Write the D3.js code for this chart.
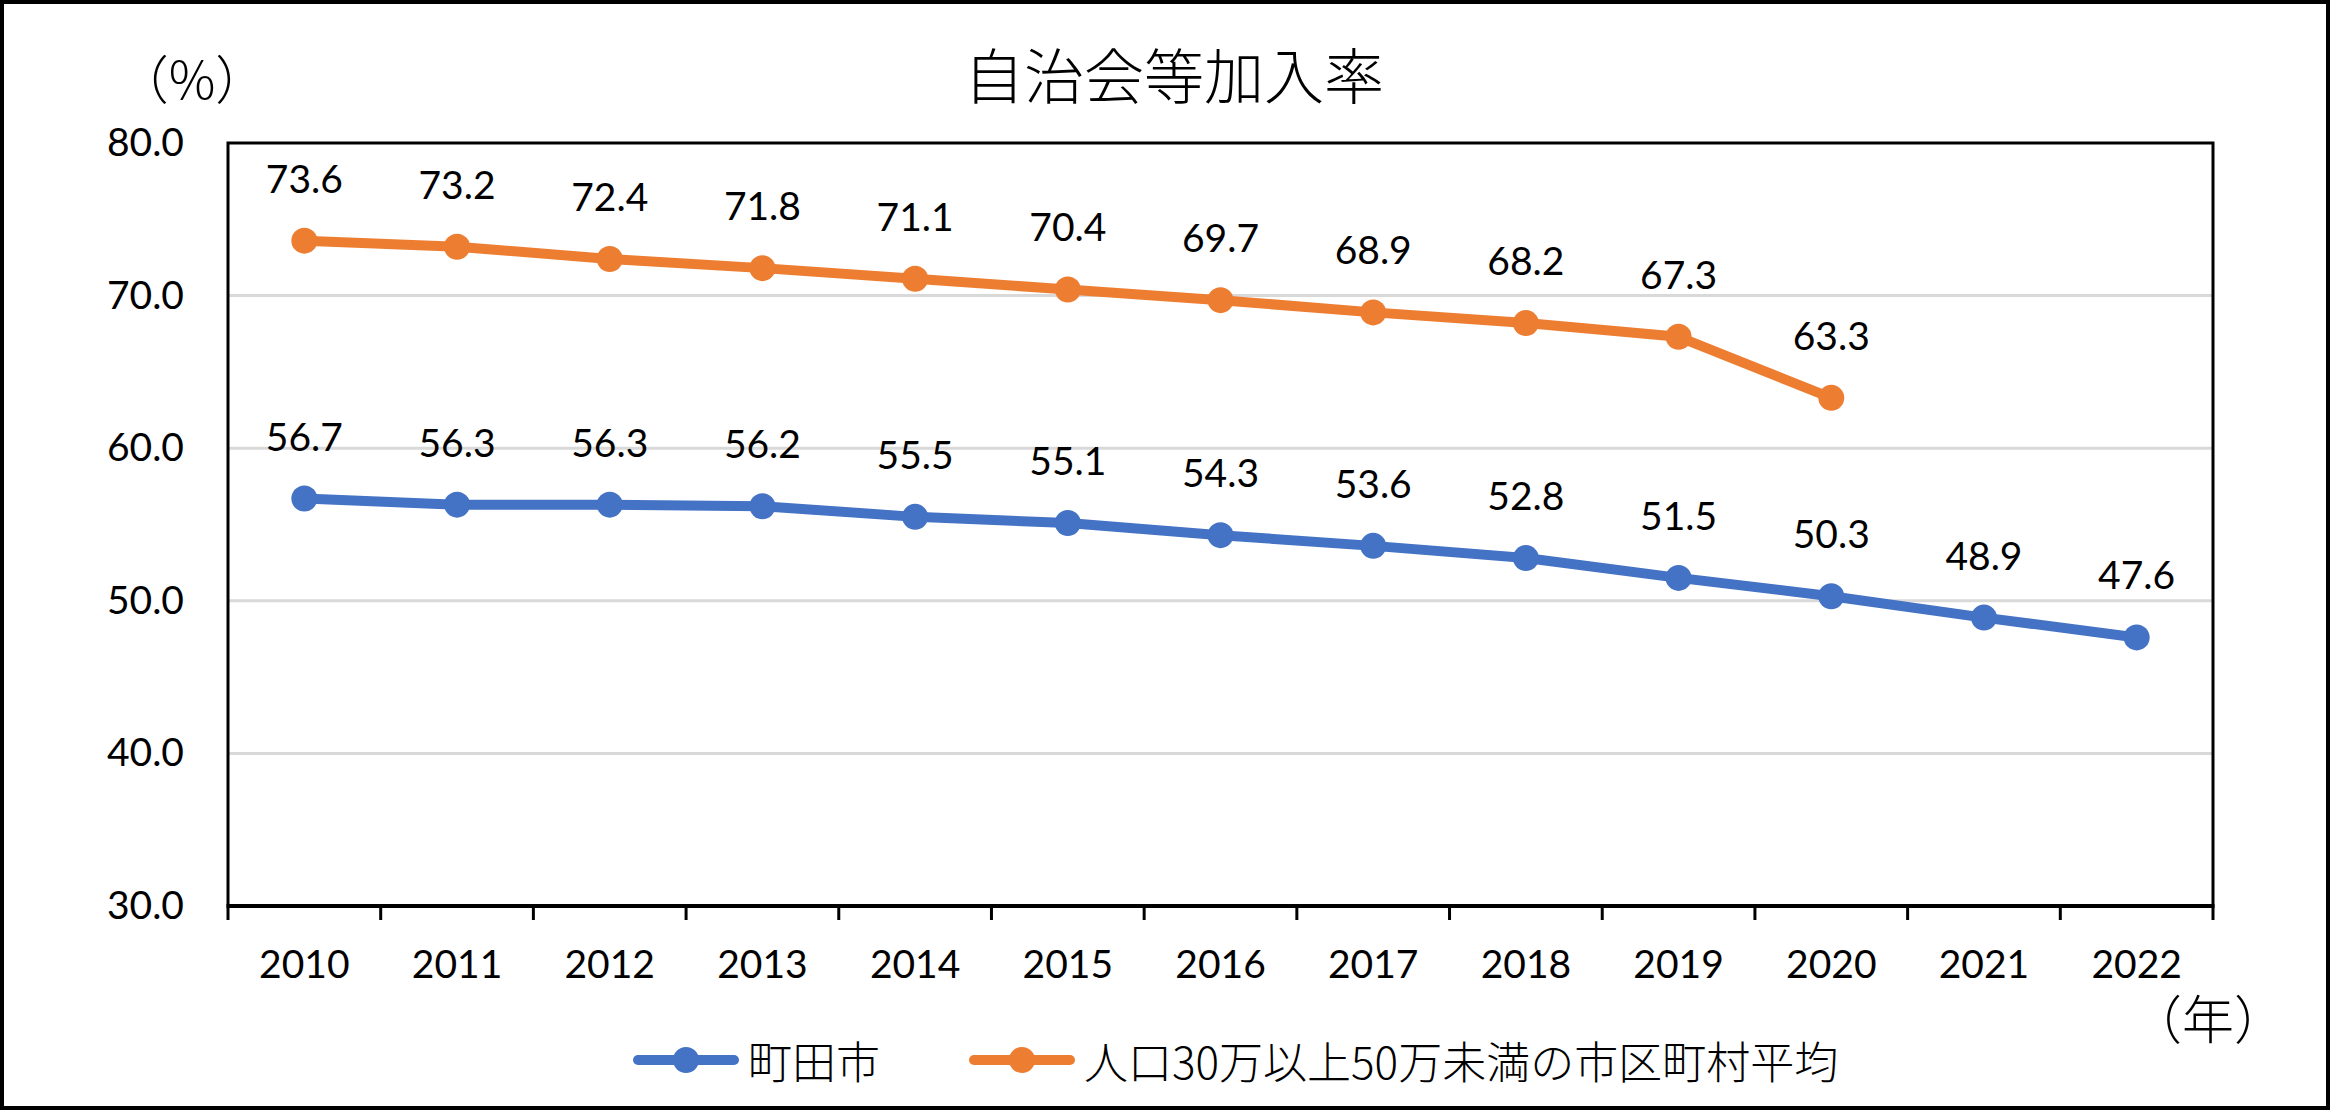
<!DOCTYPE html>
<html>
<head>
<meta charset="utf-8">
<script src="https://cdn.jsdelivr.net/npm/d3@7"></script>
<style>
  body { margin: 0; background: #fff; }
</style>
</head>
<body>
<div class="canvas"></div>
<script>
// data
const years = ['2010','2011','2012','2013','2014','2015','2016','2017','2018','2019','2020','2021','2022'];
const machida = [56.7, 56.3, 56.3, 56.2, 55.5, 55.1, 54.3, 53.6, 52.8, 51.5, 50.3, 48.9, 47.6];
const cityAvg = [73.6, 73.2, 72.4, 71.8, 71.1, 70.4, 69.7, 68.9, 68.2, 67.3, 63.3, null, null];
const yTicks = [30, 40, 50, 60, 70, 80];
const seriesNames = ['町田市', '人口30万以上50万未満の市区町村平均'];
const seriesColors = ['#4472C4', '#ED7D31'];
const chartTitle = '自治会等加入率';
const yUnit = '（%）';
const xUnit = '（年）';

const W = 2330, H = 1110;
const numFont = 'Lato, "Noto Sans", sans-serif';
const jpFont = '"Noto Sans CJK JP", "Noto Sans", sans-serif';

const svg = d3.select('.canvas')
  .append('svg')
    .attr('width', W)
    .attr('height', H);

// outer frame
svg.append('rect')
  .attr('x', 2).attr('y', 2)
  .attr('width', W - 4).attr('height', H - 4)
  .attr('fill', '#fff')
  .attr('stroke', '#000')
  .attr('stroke-width', 4);

const plot = {left: 228, right: 2213, top: 143, bottom: 906};

const x = d3.scaleBand()
  .domain(years)
  .range([plot.left, plot.right]);

const y = d3.scaleLinear()
  .domain([30, 80])
  .range([plot.bottom, plot.top]);

// gridlines
svg.append('g')
  .selectAll('line')
  .data(yTicks.filter(t => t > 30 && t < 80))
  .enter()
  .append('line')
    .attr('x1', plot.left).attr('x2', plot.right)
    .attr('y1', d => y(d)).attr('y2', d => y(d))
    .attr('stroke', '#d9d9d9')
    .attr('stroke-width', 3);

// plot border (top / left / right)
svg.append('path')
  .attr('d', `M${plot.left},${plot.bottom}V${plot.top}H${plot.right}V${plot.bottom}`)
  .attr('fill', 'none')
  .attr('stroke', '#000')
  .attr('stroke-width', 3);

// y axis labels
const yAxis = svg.append('g')
  .attr('transform', `translate(${plot.left},0)`)
  .call(d3.axisLeft(y).tickValues(yTicks).tickFormat(d3.format('.1f')).tickSize(0).tickPadding(44));
yAxis.select('.domain').remove();
yAxis.selectAll('text')
  .attr('font-family', numFont)
  .attr('font-size', 39)
  .attr('fill', '#000');

// x axis labels
const xAxis = svg.append('g')
  .attr('transform', `translate(0,${plot.bottom})`)
  .call(d3.axisBottom(x).tickSize(0).tickPadding(44));
xAxis.select('.domain').remove();
xAxis.selectAll('text')
  .attr('font-family', numFont)
  .attr('font-size', 39)
  .attr('fill', '#000');

// x axis line + boundary ticks
const bounds = years.map(d => x(d)).concat([plot.right]);
svg.append('g')
  .selectAll('line')
  .data(bounds)
  .enter()
  .append('line')
    .attr('x1', d => d).attr('x2', d => d)
    .attr('y1', plot.bottom).attr('y2', plot.bottom + 14)
    .attr('stroke', '#000')
    .attr('stroke-width', 3);
svg.append('line')
  .attr('x1', plot.left - 1.5).attr('x2', plot.right + 1.5)
  .attr('y1', plot.bottom).attr('y2', plot.bottom)
  .attr('stroke', '#000')
  .attr('stroke-width', 4);

// series
const series = [machida, cityAvg];
const cx = d => x(d) + x.bandwidth() / 2;

const line = d3.line()
  .defined(d => d.v != null)
  .x(d => cx(d.year))
  .y(d => y(d.v));

series.forEach((vals, i) => {
  const pts = years.map((yr, j) => ({year: yr, v: vals[j]}));
  const g = svg.append('g');
  g.append('path')
    .datum(pts)
    .attr('d', line)
    .attr('fill', 'none')
    .attr('stroke', seriesColors[i])
    .attr('stroke-width', 10)
    .attr('stroke-linejoin', 'round')
    .attr('stroke-linecap', 'round');
  const valid = pts.filter(d => d.v != null);
  g.selectAll('circle')
    .data(valid)
    .enter()
    .append('circle')
      .attr('cx', d => cx(d.year))
      .attr('cy', d => y(d.v))
      .attr('r', 13)
      .attr('fill', seriesColors[i]);
  g.selectAll('text')
    .data(valid)
    .enter()
    .append('text')
      .attr('x', d => cx(d.year))
      .attr('y', d => y(d.v) - 48)
      .attr('text-anchor', 'middle')
      .attr('font-family', numFont)
      .attr('font-size', 39)
      .attr('fill', '#000')
      .text(d => d.v.toFixed(1));
});

// title and units
svg.append('text')
  .attr('x', 1174).attr('y', 72)
  .attr('text-anchor', 'middle')
  .attr('dominant-baseline', 'central')
  .attr('font-family', jpFont)
  .attr('font-size', 60)
  .attr('font-weight', 300)
  .attr('fill', '#000')
  .text(chartTitle);

svg.append('text')
  .attr('x', 192).attr('y', 76)
  .attr('text-anchor', 'middle')
  .attr('dominant-baseline', 'central')
  .attr('font-family', jpFont)
  .attr('font-size', 52)
  .attr('font-weight', 300)
  .attr('fill', '#000')
  .text(yUnit);

svg.append('text')
  .attr('x', 2208).attr('y', 1016)
  .attr('text-anchor', 'middle')
  .attr('dominant-baseline', 'central')
  .attr('font-family', jpFont)
  .attr('font-size', 52)
  .attr('font-weight', 300)
  .attr('fill', '#000')
  .text(xUnit);

// legend
const legendX = [633, 969];
const legendY = 1060;
const legend = svg.append('g')
  .selectAll('g')
  .data(seriesNames)
  .enter()
  .append('g')
    .attr('transform', (d, i) => `translate(${legendX[i]},${legendY})`);
legend.append('line')
  .attr('x1', 5).attr('x2', 101)
  .attr('y1', 0).attr('y2', 0)
  .attr('stroke', (d, i) => seriesColors[i])
  .attr('stroke-width', 10)
  .attr('stroke-linecap', 'round');
legend.append('circle')
  .attr('cx', 53).attr('cy', 0)
  .attr('r', 13)
  .attr('fill', (d, i) => seriesColors[i]);
legend.append('text')
  .attr('x', 115).attr('y', 0)
  .attr('dominant-baseline', 'central')
  .attr('font-family', jpFont)
  .attr('font-size', 44)
  .attr('font-weight', 300)
  .attr('fill', '#000')
  .text(d => d);
</script>
</body>
</html>
